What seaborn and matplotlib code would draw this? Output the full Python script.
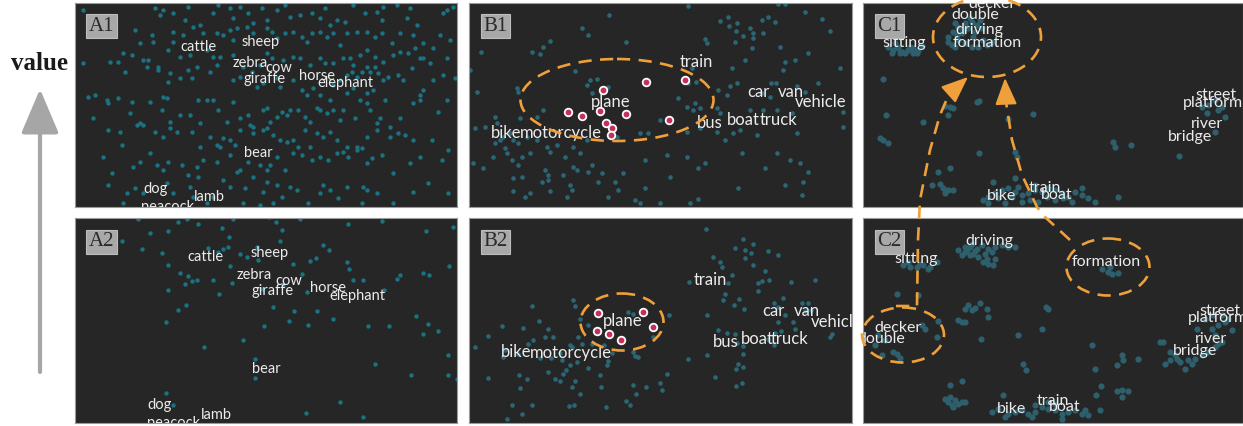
import matplotlib
matplotlib.use('Agg')

import pandas as pd
import matplotlib.pyplot as plt
import seaborn as sns
from matplotlib.patches import Ellipse

sns.set_style('white')
plt.rcParams['font.family'] = ['Lato', 'DejaVu Sans']

W, H = 1243, 426

# ---- embedding points (projection units) ----
a1_points = [
    (250,30),(465,25),(490,30),(480,45),(520,40),(555,60),(565,20),(600,75),(640,40),(655,15),(690,25),(700,55),
    (720,20),(745,40),(760,70),(785,25),(800,60),(830,30),(855,15),(870,50),(900,45),(935,40),(960,55),(975,25),
    (990,75),(1010,60),(1035,65),(1060,15),(1095,40),(1130,35),(1150,20),(1145,60),(1190,15),(1230,25),(1220,55),
    (1250,75),(1330,40),(1340,30),(1360,20),
    (405,90),(455,105),(520,95),(550,105),(580,80),(610,100),(650,100),(670,105),(690,90),(710,85),(700,120),
    (740,80),(760,100),(800,85),(815,95),(830,115),(855,100),(880,95),(905,110),(920,125),(935,100),(960,95),
    (980,110),(1000,100),(1020,135),(1040,100),(1070,95),(1100,95),(1125,110),(1145,100),(1175,130),(1200,100),
    (1240,105),(1270,130),(1300,145),(1320,105),(1350,120),(420,130),(460,125),(505,150),(520,125),
    (250,190),(330,185),(355,185),(370,160),(395,165),(430,180),(445,180),(475,200),(540,170),(570,165),
    (620,150),(640,170),(660,170),(700,165),(730,200),(780,195),(800,160),(815,175),(850,180),(880,170),
    (900,175),(930,195),(960,175),(975,190),(1000,190),(1030,175),(1050,175),(1060,195),(1080,165),(1100,150),
    (1125,170),(1150,185),(1180,165),(1200,155),(1225,160),(1245,145),(1260,175),(1270,175),(1290,190),(1340,175),
    (265,290),(285,285),(320,300),(355,295),(375,215),(395,305),(440,200),(475,210),(505,245),(510,220),
    (540,235),(565,210),(575,235),(590,200),(630,215),(650,195),(700,240),(720,230),(755,215),(770,260),
    (790,250),(830,235),(840,260),(880,240),(905,270),(920,285),(940,265),(960,285),(1000,255),(1020,240),
    (1040,225),(1055,215),(1070,230),(1085,215),(1100,200),(1110,215),(1125,200),(1135,220),(1150,240),
    (1165,230),(1195,225),(1210,240),(1235,205),(1260,285),(1270,270),(1300,240),(1330,225),(1365,235),
    (1040,280),(1060,265),(1100,280),(1120,270),(1155,300),
    (280,355),(325,310),(390,340),(420,370),(450,305),(485,330),(490,290),(500,295),(510,365),(540,345),
    (570,345),(595,300),(600,370),(620,300),(640,300),(655,330),(680,365),(700,305),(720,355),(745,345),
    (760,380),(790,330),(800,325),(810,365),(830,350),(845,335),(860,345),(870,330),(895,330),(915,350),
    (930,365),(950,325),(960,330),(980,340),(990,300),(1000,330),(1020,360),(1030,330),(1065,355),(1080,300),
    (1100,310),(1110,330),(1130,370),(1140,355),(1170,380),(1200,355),(1240,310),(1260,300),(1315,335),(1340,300),
    (325,390),(360,395),(365,435),(410,375),(430,375),(465,395),(490,410),(510,385),(530,395),(575,395),
    (600,440),(630,410),(650,435),(660,440),(670,415),(690,420),(705,435),(720,390),(750,375),(760,400),
    (790,390),(800,385),(820,405),(840,420),(860,425),(880,420),(895,440),(915,390),(930,440),(950,400),
    (970,410),(990,395),(1010,420),(1040,440),(1070,440),(1100,410),(1130,390),(1170,410),(1195,400),
    (1215,405),(1240,420),(1295,420),(1345,450),
    (310,470),(335,520),(400,500),(420,485),(450,460),(470,495),(490,510),(505,485),(545,495),(565,525),
    (590,500),(610,480),(650,485),(690,465),(710,515),(720,510),(745,485),(780,495),(800,510),(810,495),
    (830,470),(855,510),(880,460),(905,465),(935,480),(960,470),(985,480),(1010,460),(1030,455),(1045,470),
    (1070,450),(1085,445),(1100,490),(1115,475),(1145,465),(1180,520),(1230,490),(1260,470),(1325,480),
    (325,555),(380,580),(405,565),(430,580),(500,550),(520,580),(570,560),(580,590),(595,530),(640,590),
    (670,540),(690,560),(735,565),(760,530),(790,575),(800,545),(830,555),(845,590),(870,560),(890,570),
    (925,610),(960,580),(970,555),(990,570),(1015,595),(1040,560),(1090,560),(1100,570),(1130,580),(1180,610),
    (1240,575),(1285,550),(1345,580),(370,610),(620,610),(730,610),(780,615),(820,610),(1085,610),
]

a2_points = [
    (367,87),(415,22),(425,110),(450,62),(487,123),(503,58),(503,158),(503,233),(498,330),(535,30),(540,183),
    (533,293),(558,278),(560,20),(555,215),(565,193),(575,208),(590,205),(595,36),(613,405),(625,107),(640,203),
    (655,120),(658,245),(665,48),(668,110),(685,105),(687,75),(690,163),(697,213),(700,20),(720,125),(728,385),
    (740,135),(765,440),(765,497),(770,105),(775,145),(785,230),(792,342),(808,15),(818,285),(828,30),(840,88),
    (845,55),(850,220),(868,328),(880,155),(882,297),(900,20),(905,185),(920,240),(925,340),(930,148),(948,137),
    (952,297),(970,100),(988,115),(1000,322),(1020,570),(1040,150),(1045,35),(1048,172),(1060,205),(1088,205),
    (1105,343),(1125,456),(1145,28),(1152,235),(1166,341),(1190,200),(1200,188),(1232,490),(1248,313),
    (1268,183),(1270,366),(1278,57),(1284,335),(1287,188),(1313,356),(1345,428),(1345,490),(1348,162),
    (1360,45),(1370,500),(498,542),(518,580),(918,603),(1090,614),
]

b1_points = [
    (685,18),(955,12),(975,12),(447,45),(805,50),(925,50),(1085,58),(1035,35),(780,62),(830,68),(905,60),
    (945,65),(365,85),(385,105),(808,78),(828,92),(870,85),(880,100),(910,100),(1110,93),(850,108),(880,115),
    (270,122),(250,140),(215,155),(240,163),(62,155),(497,127),(735,118),(740,130),(825,125),(875,145),
    (960,140),(1045,160),(855,180),(975,185),(1005,180),(30,210),(345,212),(695,205),(815,205),(970,210),
    (1140,205),(410,237),(390,240),(380,255),(708,245),(685,250),(932,250),(948,248),(1012,258),(1075,250),
    (810,258),(830,250),(170,265),(175,275),(50,275),(445,260),(395,280),(775,270),(800,285),(905,280),
    (1035,275),(930,290),(655,295),(705,310),(680,320),(700,330),(720,325),(770,325),(780,340),(870,330),
    (910,330),(950,330),(995,340),(1150,335),(250,330),(180,355),(230,350),(105,350),(110,370),(75,380),
    (45,385),(150,400),(130,410),(120,420),(160,420),(175,430),(200,410),(230,420),(260,440),(290,435),
    (340,440),(380,420),(470,410),(540,400),(600,360),(565,400),(680,395),(720,385),(770,395),(795,420),
    (820,400),(840,390),(890,405),(1010,400),(1150,380),(105,430),(135,445),(100,470),(140,460),(155,480),
    (185,470),(210,460),(270,455),(315,470),(360,460),(555,480),(620,465),(680,470),(845,460),(950,460),
    (990,480),(40,490),(70,505),(175,495),(255,510),(265,525),(310,525),(340,500),(395,495),(350,510),
    (385,515),(425,520),(490,520),(630,530),(715,505),(735,490),(915,505),(1020,490),(160,535),(185,530),
    (245,545),(265,540),(330,555),(335,570),(415,545),(465,545),(475,570),(555,565),(835,565),(975,555),
    (1030,545),(160,572),(195,590),(210,580),(270,573),(320,590),(445,590),(525,600),(540,608),(600,608),
    (690,610),(715,598),(1045,515),(1025,585),
]
b1_plane = [(430,270),(558,245),(675,240),(325,337),(365,347),(420,333),(498,343),(438,370),(457,383),
            (452,405),(628,360)]

b2_points = [
    (738,50),(848,80),(825,108),(855,113),(880,97),(873,122),(760,135),(780,150),(785,165),(855,138),(880,158),
    (925,118),(955,130),(915,178),(815,190),(805,213),(688,210),(895,212),(905,208),(928,203),(992,210),
    (1065,203),(895,237),(795,245),(838,262),(852,290),(822,278),(790,265),(968,257),(942,272),(953,285),
    (1025,272),(1043,272),(1035,298),(1052,295),(975,310),(955,330),(1000,330),(740,310),(215,283),(125,343),
    (238,327),(265,350),(190,348),(85,373),(45,405),(205,395),(220,383),(255,375),(280,376),(340,265),
    (345,283),(360,320),(385,338),(505,300),(520,307),(628,308),(578,374),(330,398),(335,405),(355,375),
    (365,395),(395,395),(432,400),(457,422),(520,420),(525,432),(535,435),(300,423),(240,437),(272,438),
    (352,450),(330,460),(318,475),(305,445),(385,468),(440,460),(445,448),(135,413),(128,435),(175,425),
    (685,440),(742,428),(775,355),(800,362),(825,367),(830,393),(850,402),(848,425),(835,455),(850,465),
    (828,470),(945,363),(962,358),(925,380),(942,398),(1005,352),(1115,365),(1110,375),(85,497),(178,490),
    (200,500),(180,527),(265,480),(285,500),(300,508),(310,487),(345,508),(335,525),(360,545),(420,488),
    (423,525),(520,520),(528,545),(558,525),(600,513),(605,535),(620,487),(765,495),(828,522),(845,512),
    (157,580),(215,580),(187,607),(140,620),(328,582),(343,578),(437,585),(497,567),(510,580),
]
b2_plane = [(415,303),(550,300),(578,345),(410,357),(448,367),(482,383)]

c1_points = [
    (100,140),(115,150),(130,145),(140,155),(160,150),(175,145),(190,150),(175,160),(150,158),(120,130),
    (200,138),(110,158),(135,160),(185,158),(125,142),(165,140),
    (280,110),(295,95),(310,80),(330,70),(350,65),(365,75),(380,85),(310,120),(330,130),(350,140),(370,140),
    (395,135),(410,125),(300,140),(280,125),(320,100),(355,110),(345,55),(375,60),(300,70),(340,85),(290,135),
    (305,105),(325,90),(385,120),(360,95),
    (83,237),(93,345),(75,415),(85,420),(100,430),(205,365),(270,318),(285,322),(295,325),(280,345),(365,305),
    (372,303),(460,357),(535,342),(372,458),(250,515),(285,505),(232,555),(255,553),(265,565),(280,570),
    (295,570),(270,580),(415,545),(480,455),(485,470),(480,535),(775,425),(780,440),(828,435),(972,467),
    (790,592),(1055,340),(1080,395),(1040,320),(1080,300),(1100,320),(1110,350),(1090,330),(1060,315),
    (385,600),(400,590),(420,580),(440,570),(460,565),(480,575),(500,585),(520,580),(540,570),(560,575),
    (580,565),(600,570),(620,580),(640,590),(660,575),(680,565),(700,595),(720,605),(400,610),(450,610),
    (500,605),(550,605),(600,600),(650,605),(470,590),(525,600),(575,590),(625,595),(680,585),(430,595),
    (490,560),(540,555),
]

c2_points = [
    (310,115),(330,105),(350,95),(365,110),(380,100),(400,110),(420,105),(440,100),(460,105),(480,105),
    (320,130),(345,130),(370,135),(395,140),(420,140),(400,155),(415,160),(385,150),(355,125),(335,115),
    (330,120),(360,118),(390,125),(410,120),(345,105),
    (145,160),(165,165),(185,165),(205,160),(225,165),(245,150),(220,170),(160,150),(195,155),
    (740,170),(760,180),(770,185),(790,182),(765,165),
    (125,247),(190,248),(330,290),(340,278),(350,295),(360,288),(375,272),(395,292),(398,315),(310,325),
    (320,330),(330,330),(378,380),(490,368),(562,350),(580,290),(572,285),
    (70,370),(90,385),(200,340),(210,350),(245,375),(250,328),(115,420),(125,425),(135,438),(80,430),(60,400),
    (712,400),(720,470),(800,430),(805,445),(785,460),(848,440),(505,455),(512,475),(737,523),(722,550),
    (785,537),(800,535),(818,537),(800,555),(285,520),(320,508),(735,595),
    (270,560),(280,570),(290,578),(300,565),(310,575),(320,570),(330,570),(295,585),(285,555),
    (410,600),(430,590),(445,550),(460,605),(480,600),(500,595),(520,605),(540,600),(560,585),(580,590),
    (600,595),(620,605),(640,600),(660,595),(680,605),(700,610),(580,570),(600,575),(450,615),(530,615),
    (620,620),(690,595),(540,580),
    (915,390),(925,390),(945,420),(960,430),(975,450),(990,470),(1000,445),(1020,440),(1040,430),(1060,420),
    (1080,405),(1090,395),(930,455),(945,445),(965,440),(1010,455),(1070,350),(1090,340),(1110,330),
    (1130,355),(1050,320),(1075,310),(1100,310),(1120,320),(1080,370),(1100,390),(1025,350),
]

# ---- word labels ----
a_words = ['cattle', 'sheep', 'zebra', 'cow', 'giraffe', 'horse', 'elephant', 'bear', 'dog', 'lamb', 'peacock']
a1_label_xy = [(595,140),(782,125),(750,190),(835,205),(793,238),(950,227),(1037,250),(775,460),(467,567),
               (628,592),(503,620)]
a2_label_xy = [(615,135),(808,122),(762,190),(865,207),(818,237),(985,227),(1072,253),(800,470),(478,580),
               (648,608),(520,632)]

b_words = ['train', 'plane', 'car', 'van', 'vehicle', 'bus', 'boat', 'truck', 'bike', 'motorcycle']
b1_label_xy = [(710,185),(452,305),(895,275),(993,275),(1082,307),(748,370),(850,360),(955,360),(137,398),
               (302,398)]
b2_label_xy = [(750,205),(488,327),(940,297),(1040,297),(1131,330),(798,390),(892,382),(990,380),(167,420),
               (332,422)]

c_words = ['decker', 'double', 'driving', 'formation', 'sitting', 'street', 'platform', 'river', 'bridge',
           'bike', 'train', 'boat']
c1_label_xy = [(410,12),(362,45),(372,90),(398,130),(147,128),(1082,285),(1075,308),(1057,373),(1005,410),
               (440,588),(570,565),(605,585)]
c2_label_xy = [(128,348),(78,380),(403,88),(755,150),(183,142),(1095,298),(1090,318),(1068,380),(1020,417),
               (470,590),(595,566),(630,585)]

panel_names = ['A1', 'B1', 'C1', 'A2', 'B2', 'C2']

BG = '#262626'
LABEL = '#ececec'
ORANGE = '#f0a03a'

# name: (points, highlights, words, word xy, pixel box l,t,r,b, extent x0,x1,y0,y1, dot colour, size, fontsize)
panels = {
    'A1': (a1_points, None, a_words, a1_label_xy, (75, 3, 457, 207), (225, 1371, 9, 621), '#1b7282', 10, 10.5),
    'B1': (b1_points, b1_plane, b_words, b1_label_xy, (469, 3, 852, 207), (27, 1176, 9, 621), '#2b6674', 11, 12),
    'C1': (c1_points, None, c_words, c1_label_xy, (863, 3, 1243, 207), (24, 1164, 9, 621), '#2d5f6d', 20, 11.5),
    'A2': (a2_points, None, a_words, a2_label_xy, (75, 218, 457, 423), (225, 1371, 18, 633), '#1b7282', 10, 10.5),
    'B2': (b2_points, b2_plane, b_words, b2_label_xy, (469, 218, 852, 423), (27, 1176, 18, 633), '#2b6674', 11, 12),
    'C2': (c2_points, None, c_words, c2_label_xy, (863, 218, 1243, 423), (24, 1164, 18, 633), '#2d5f6d', 20, 11.5),
}

fig = plt.figure(figsize=(W / 100, H / 100), dpi=100, facecolor='white')

for name in panel_names:
    pts, hi, words, word_xy, (l, t, r, b), (x0, x1, y0, y1), dot, size, fs = panels[name]
    ax = fig.add_axes([l / W, 1 - b / H, (r - l) / W, (b - t) / H])
    ax.set_facecolor(BG)

    df = pd.DataFrame(pts, columns=['x', 'y'])
    sns.scatterplot(data=df, x='x', y='y', ax=ax, color=dot, s=size, linewidth=0, legend=False)

    if hi is not None:
        hdf = pd.DataFrame(hi, columns=['x', 'y'])
        sns.scatterplot(data=hdf, x='x', y='y', ax=ax, color='#c4305a', edgecolor='white',
                        s=30, linewidth=1.3, legend=False, zorder=4)

    for w, (tx, ty) in zip(words, word_xy):
        ax.text(tx, ty, w, color=LABEL, fontsize=fs, ha='center', va='center', clip_on=True, zorder=5)

    ax.text(0.07, 0.885, name, transform=ax.transAxes, family='Liberation Serif', fontsize=15,
            color='#2a2a2a', ha='center', va='center', zorder=6,
            bbox=dict(boxstyle='square,pad=0.12', facecolor='#a8a8a8', edgecolor='#bdbdbd', lw=0.8))

    ax.set_xlim(x0, x1)
    ax.set_ylim(y1, y0)
    ax.set_xticks([])
    ax.set_yticks([])
    ax.set_xlabel('')
    ax.set_ylabel('')
    for sp in ax.spines.values():
        sp.set_color('#9a9a9a')
        sp.set_linewidth(0.8)

# overlay in image pixels for the annotations
ov = fig.add_axes([0, 0, 1, 1], zorder=10)
ov.set_xlim(0, W)
ov.set_ylim(H, 0)
ov.axis('off')
ov.patch.set_alpha(0)

ellipses = [((617, 100), 193, 82), ((622, 322), 83, 57), ((987, 37), 108, 80),
            ((1108, 267), 83, 57), ((903, 335), 82, 55)]
for (cx, cy), ew, eh in ellipses:
    ov.add_patch(Ellipse((cx, cy), ew, eh, fill=False, edgecolor=ORANGE, lw=1.9,
                         linestyle=(0, (5, 3.2))))

left_path = [(896, 306), (917, 306), (918, 240), (920, 200), (930, 150), (940, 115), (949, 94)]
right_path = [(1070, 240), (1045, 217), (1037, 207), (1022, 175), (1012, 140), (1006, 102)]
for path, tip in [(left_path, (968, 77)), (right_path, (1005, 78))]:
    xs, ys = zip(*path)
    ov.plot(xs, ys, color=ORANGE, lw=1.9, linestyle=(0, (5, 3.2)), solid_capstyle='butt')
    ov.annotate('', xy=tip, xytext=path[-1],
                arrowprops=dict(arrowstyle='-|>,head_length=1.1,head_width=0.45', color=ORANGE,
                                lw=1.5, shrinkA=0, shrinkB=0, mutation_scale=15))

# value axis on the left
ov.annotate('', xy=(40, 89), xytext=(40, 372),
            arrowprops=dict(arrowstyle='-|>,head_length=1.37,head_width=0.58', color='#a6a6a6',
                            lw=3, shrinkA=0, shrinkB=0, mutation_scale=20))
ov.text(40, 64, 'value', family='Liberation Serif', fontweight='bold', fontsize=18,
        color='#1a1a1a', ha='center', va='center')

plt.savefig('out.png', dpi=100)
plt.close()
